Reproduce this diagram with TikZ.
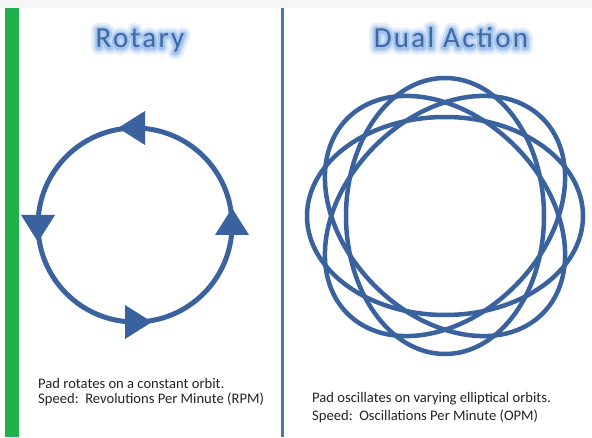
\documentclass[tikz,border=0pt]{standalone}
\usepackage{fontspec}
\setmainfont{Carlito}
\usetikzlibrary{positioning}
\definecolor{orbitblue}{RGB}{58,98,158}
\definecolor{titleblue}{RGB}{62,105,165}
\definecolor{glowouter}{RGB}{232,240,251}
\definecolor{glowmid}{RGB}{204,222,246}
\definecolor{glowinner}{RGB}{164,196,238}
\definecolor{barblue}{RGB}{74,118,180}
\definecolor{bargreen}{RGB}{32,176,76}
\definecolor{bodytext}{RGB}{35,35,35}

% title with a soft halo behind the letters
\newcommand{\glowtitle}[1]{%
  \makebox[0pt][l]{\textcolor{glowouter}{\addfontfeatures{FakeBold=46}#1}}%
  \makebox[0pt][l]{\textcolor{glowmid}{\addfontfeatures{FakeBold=30}#1}}%
  \makebox[0pt][l]{\textcolor{glowinner}{\addfontfeatures{FakeBold=16}#1}}%
  #1}

\begin{document}
\begin{tikzpicture}[x=1pt, y=1pt, line join=round,
    title/.style={font=\fontsize{29}{32}\selectfont\addfontfeatures{LetterSpace=8}, text=titleblue, inner sep=0pt, anchor=base, line join=round},
    body/.style={font=\fontsize{14.6}{16}\selectfont, text=bodytext, anchor=base west, inner sep=0pt},
    orbit/.style={draw=orbitblue, line width=5pt},
    ellorbit/.style={draw=orbitblue, line width=4.5pt},
    tip/.style={fill=orbitblue}
]
\useasboundingbox (0,0) rectangle (592,437);

% Frame
\fill[gray!7] (0,429) rectangle (592,437);
\fill[bargreen] (5,0) rectangle (19,429);
\draw[barblue, line width=3pt] (282.5,0) -- (282.5,429);

% Titles
\node[title] (rtitle) at (140,389) {\glowtitle{Rotary}};
\node[title] (dtitle) at (451,389) {\glowtitle{Dual Action}};

% Rotary orbit
\coordinate (rotc) at (135,212);
\draw[orbit] (rotc) circle [radius=97];
\foreach \ang in {0,90,180,270} {
  \fill[tip, shift={(rotc)}, rotate=\ang] (97,17) -- (80,-10) -- (114,-10) -- cycle;
}

% Dual action orbits
\coordinate (dualc) at (445,221);
\foreach \rot in {0,45,90,135} {
  \draw[ellorbit, rotate around={\rot:(dualc)}] (dualc) ellipse [x radius=138, y radius=99];
}

% Captions
\node[body] (rline1) at (38,49) {Pad rotates on a constant orbit.};
\node[body] (rline2) at (38,34) {Speed:\ \ Revolutions Per Minute (RPM)};
\node[body] (dline1) at (312,35) {Pad oscillates on varying elliptical orbits.};
\node[body] (dline2) at (312,17) {Speed:\ \ Oscillations Per Minute (OPM)};

\end{tikzpicture}
\end{document}
